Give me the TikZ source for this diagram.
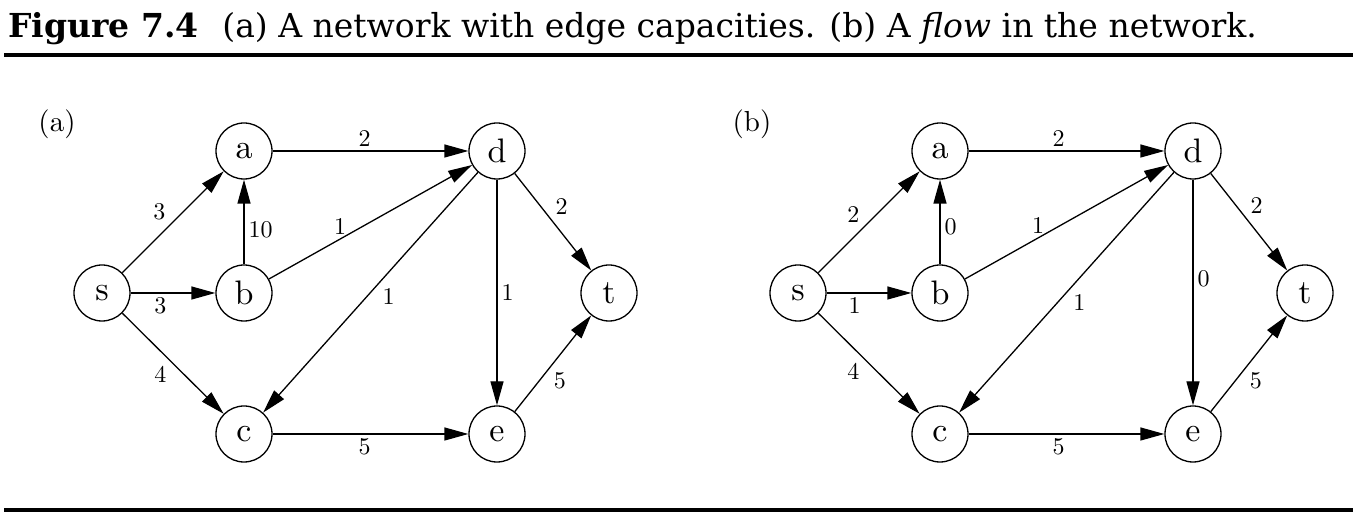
\documentclass[tikz,border=0pt]{standalone}
\usepackage{fontspec}
\usepackage{tikz}
\usetikzlibrary{arrows.meta,positioning}
\newfontfamily\capfont{DejaVu Serif}
\newfontfamily\cmten{lmroman10-regular}[Extension=.otf]
\tikzset{%
	vertex/.style = {draw, circle, line width=0.65pt, minimum size=28pt, inner sep=0pt, font=\cmten\fontsize{17}{20}\selectfont},
	flow/.style   = {line width=0.65pt, -{Triangle[length=12pt,width=6.5pt]}},
	wt/.style     = {inner sep=2pt, font=\cmten\fontsize{12}{14}\selectfont},
	tag/.style    = {anchor=base, inner sep=0pt, font=\cmten\fontsize{14.5}{17}\selectfont},
	rule/.style   = {line width=2pt},
}
\begin{document}
\begin{tikzpicture}[x=0.5pt,y=-0.5pt]
	\useasboundingbox (0,0) rectangle (1362,523);
	% caption
	\node[anchor=base west, inner sep=0pt, font=\capfont\fontsize{16.5}{20}\selectfont\bfseries] (fig) at (8,38) {Figure 7.4};
	\node[anchor=base west, inner sep=0pt, font=\capfont\fontsize{16.5}{20}\selectfont] (caption) at (222,38) {(a) A network with edge capacities. (b) A \textit{flow} in the network.};
	\draw[rule] (4,55.5) -- (1353,55.5);
	\draw[rule] (4,510) -- (1353,510);
	% the same vertices in both panels
	\foreach \k/\dx in {1/0,2/696}{
		\node[vertex] (s\k) at (102+\dx,293) {s};
		\node[vertex] (a\k) at (244+\dx,151) {a};
		\node[vertex] (b\k) at (244+\dx,293) {b};
		\node[vertex] (c\k) at (244+\dx,434) {c};
		\node[vertex] (d\k) at (497+\dx,151) {d};
		\node[vertex] (e\k) at (497+\dx,434) {e};
		\node[vertex] (t\k) at (609+\dx,293) {t};
	}
	\node[tag] (tag1) at (57,132) {(a)};
	\node[tag] (tag2) at (752,132) {(b)};
	% (a) capacities
	\draw[flow] (s1) -- node[wt, pos=0.47, above left] {3} (a1);
	\draw[flow] (s1) -- node[wt, pos=0.35, below] {3} (b1);
	\draw[flow] (s1) -- node[wt, pos=0.48, below left] {4} (c1);
	\draw[flow] (b1) -- node[wt, pos=0.41, right] {10} (a1);
	\draw[flow] (a1) -- node[wt, pos=0.47, above] {2} (d1);
	\draw[flow] (b1) -- node[wt, pos=0.35, above] {1} (d1);
	\draw[flow] (d1) -- node[wt, pos=0.465, below right] {1} (c1);
	\draw[flow] (d1) -- node[wt, pos=0.5, right] {1} (e1);
	\draw[flow] (d1) -- node[wt, pos=0.475, above right] {2} (t1);
	\draw[flow] (c1) -- node[wt, pos=0.47, below] {5} (e1);
	\draw[flow] (e1) -- node[wt, pos=0.45, below right] {5} (t1);
	% (b) flow
	\draw[flow] (s2) -- node[wt, pos=0.45, above left] {2} (a2);
	\draw[flow] (s2) -- node[wt, pos=0.33, below] {1} (b2);
	\draw[flow] (s2) -- node[wt, pos=0.45, below left] {4} (c2);
	\draw[flow] (b2) -- node[wt, pos=0.44, right] {0} (a2);
	\draw[flow] (a2) -- node[wt, pos=0.46, above] {2} (d2);
	\draw[flow] (b2) -- node[wt, pos=0.36, above] {1} (d2);
	\draw[flow] (d2) -- node[wt, pos=0.49, below right] {1} (c2);
	\draw[flow] (d2) -- node[wt, pos=0.44, right] {0} (e2);
	\draw[flow] (d2) -- node[wt, pos=0.46, above right] {2} (t2);
	\draw[flow] (c2) -- node[wt, pos=0.46, below] {5} (e2);
	\draw[flow] (e2) -- node[wt, pos=0.45, below right] {5} (t2);
\end{tikzpicture}
\end{document}
